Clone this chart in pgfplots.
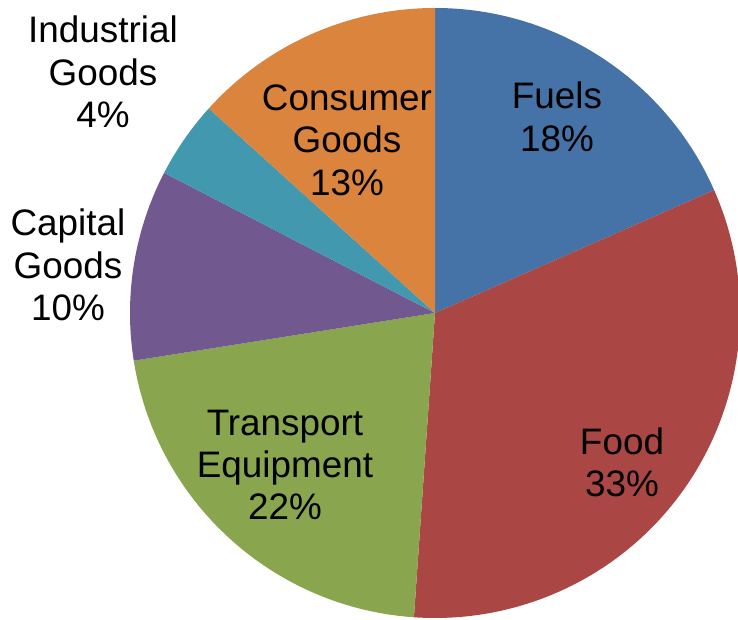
\documentclass[border=0pt]{standalone}
\usepackage{pgfplots}
\pgfplotsset{compat=1.18}
\usepackage{pgfplotstable}
\usepackage{fontspec}
\setmainfont{Liberation Sans}
\definecolor{cFuels}{HTML}{4572A7}
\definecolor{cFood}{HTML}{AA4643}
\definecolor{cTransport}{HTML}{89A54E}
\definecolor{cCapital}{HTML}{71588F}
\definecolor{cIndustrial}{HTML}{4198AF}
\definecolor{cConsumer}{HTML}{DB843D}
% share (percent), colour, label position (x, y in axis units)
\pgfplotstableread{
share color      lx   ly  label
18.4  cFuels     557  503 {Fuels\\18\%}
32.7  cFood      622  158 {Food\\33\%}
21.4  cTransport 285  155 {Transport\\Equipment\\22\%}
10.1  cCapital   68   355 {Capital\\Goods\\10\%}
4.1   cIndustrial 103 548 {Industrial\\Goods\\4\%}
13.3  cConsumer  347  480 {Consumer\\Goods\\13\%}
}\piedata
\begin{document}
\begin{tikzpicture}
\begin{axis}[
  x=1bp, y=1bp, scale only axis,
  xmin=0, xmax=738, ymin=0, ymax=620,
  hide axis, clip=false,
]
\pgfplotstablegetrowsof{\piedata}
\pgfmathtruncatemacro{\nrows}{\pgfplotsretval-1}
\def\curangle{90}
\pgfplotsinvokeforeach{0,...,\nrows}{
  \pgfplotstablegetelem{#1}{share}\of{\piedata}\let\sh\pgfplotsretval
  \pgfplotstablegetelem{#1}{color}\of{\piedata}\let\col\pgfplotsretval
  \pgfmathsetmacro{\endangle}{\curangle-3.6*\sh}
  \edef\temp{\noexpand\fill[\col] (axis cs:435,307) -- ++(\curangle:305bp) arc[start angle=\curangle, end angle=\endangle, radius=305bp] -- cycle;}
  \temp
  \global\let\curangle\endangle
}
\pgfplotsinvokeforeach{0,...,\nrows}{
  \pgfplotstablegetelem{#1}{lx}\of{\piedata}\let\lx\pgfplotsretval
  \pgfplotstablegetelem{#1}{ly}\of{\piedata}\let\ly\pgfplotsretval
  \pgfplotstablegetelem{#1}{label}\of{\piedata}\let\lab\pgfplotsretval
  \edef\temp{\noexpand\node[align=center, font=\noexpand\fontsize{37}{42.5}\noexpand\selectfont, inner sep=0pt] at (axis cs:\lx,\ly) {\expandafter\unexpanded\expandafter{\lab}};}
  \temp
}
\end{axis}
\pgfresetboundingbox
\useasboundingbox (current axis.south west) rectangle (current axis.north east);
\end{tikzpicture}
\end{document}
